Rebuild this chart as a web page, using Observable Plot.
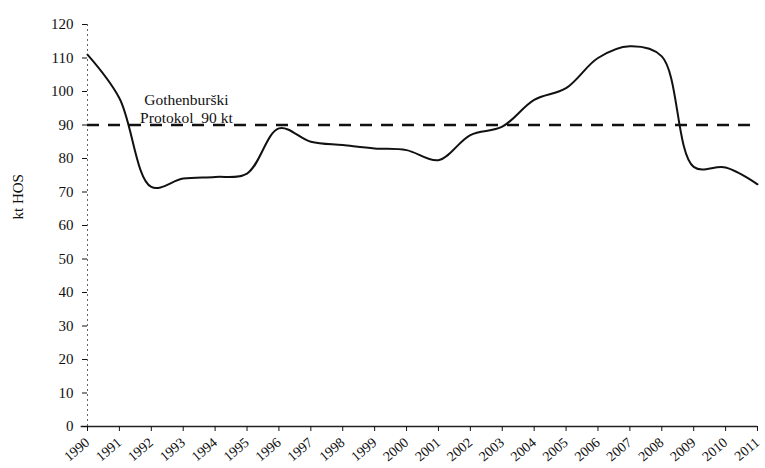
<!DOCTYPE html>
<html><head><meta charset="utf-8">
<script src="https://cdn.jsdelivr.net/npm/d3@7"></script>
<script src="https://cdn.jsdelivr.net/npm/@observablehq/plot@0.6"></script>
<style>body{margin:0;background:#fff;}</style>
</head><body><div id="chart"></div>
<script>
const years = [1990,1991,1992,1993,1994,1995,1996,1997,1998,1999,2000,2001,2002,2003,2004,2005,2006,2007,2008,2009,2010,2011];
const values = [111,98,71.5,74,74.5,75.5,89,85,84,83,82.5,79.5,87,89.5,97.5,101,110,113.5,110.5,77.5,77.3,72.3];
const limitValue = 90;
const limitLabel = ["Gothenburški", "Protokol  90 kt"];
const yTicks = [0,10,20,30,40,50,60,70,80,90,100,110,120];
const yLabel = "kt HOS";

const data = years.map((y,i)=>({year:y, value:values[i]}));
const font = "Liberation Serif, Times New Roman, serif";

const chart = Plot.plot({
  width: 765, height: 468,
  marginLeft: 87, marginRight: 8, marginTop: 24, marginBottom: 42,
  style: {fontFamily: font, fontSize: "14px", background: "#fff", color: "#111"},
  x: {domain: [1990, 2011]},
  y: {domain: [0, 120]},
  marks: [
    Plot.ruleX([1990], {stroke: "#666", strokeDasharray: "2,3", strokeWidth: 1}),
    Plot.ruleY([0], {x1: 1989.8, x2: 2011, stroke: "#222", strokeWidth: 1.5}),
    Plot.axisY({ticks: yTicks, tickSize: 5, tickPadding: 9, label: null, fontSize: 15, tickFormat: d=>d}),
    Plot.axisX({ticks: years, tickFormat: () => "", tickSize: 5, label: null}),
    Plot.text(years, {x: d=>d, y: 0, text: d=>String(d), rotate: -40, textAnchor: "end", lineAnchor: "middle", dx: 0, dy: 14, fontSize: 14, fill: "#111"}),
    Plot.ruleY([limitValue], {stroke: "#111", strokeWidth: 2.5, strokeDasharray: "12,9"}),
    Plot.line(data, {x: "year", y: "value", curve: "catmull-rom", stroke: "#111", strokeWidth: 2}),
    Plot.text([limitLabel.join("\n")], {x: 1993.1, y: 95, text: d=>d, fontSize: 15.5, lineHeight: 1.15, fill: "#111"}),
    Plot.text([yLabel], {frameAnchor: "left", dx: -69, dy: -6, rotate: -90, text: d=>d, fontSize: 15, fill: "#111"})
  ]
});
document.getElementById("chart").appendChild(chart);
</script>
</body></html>
